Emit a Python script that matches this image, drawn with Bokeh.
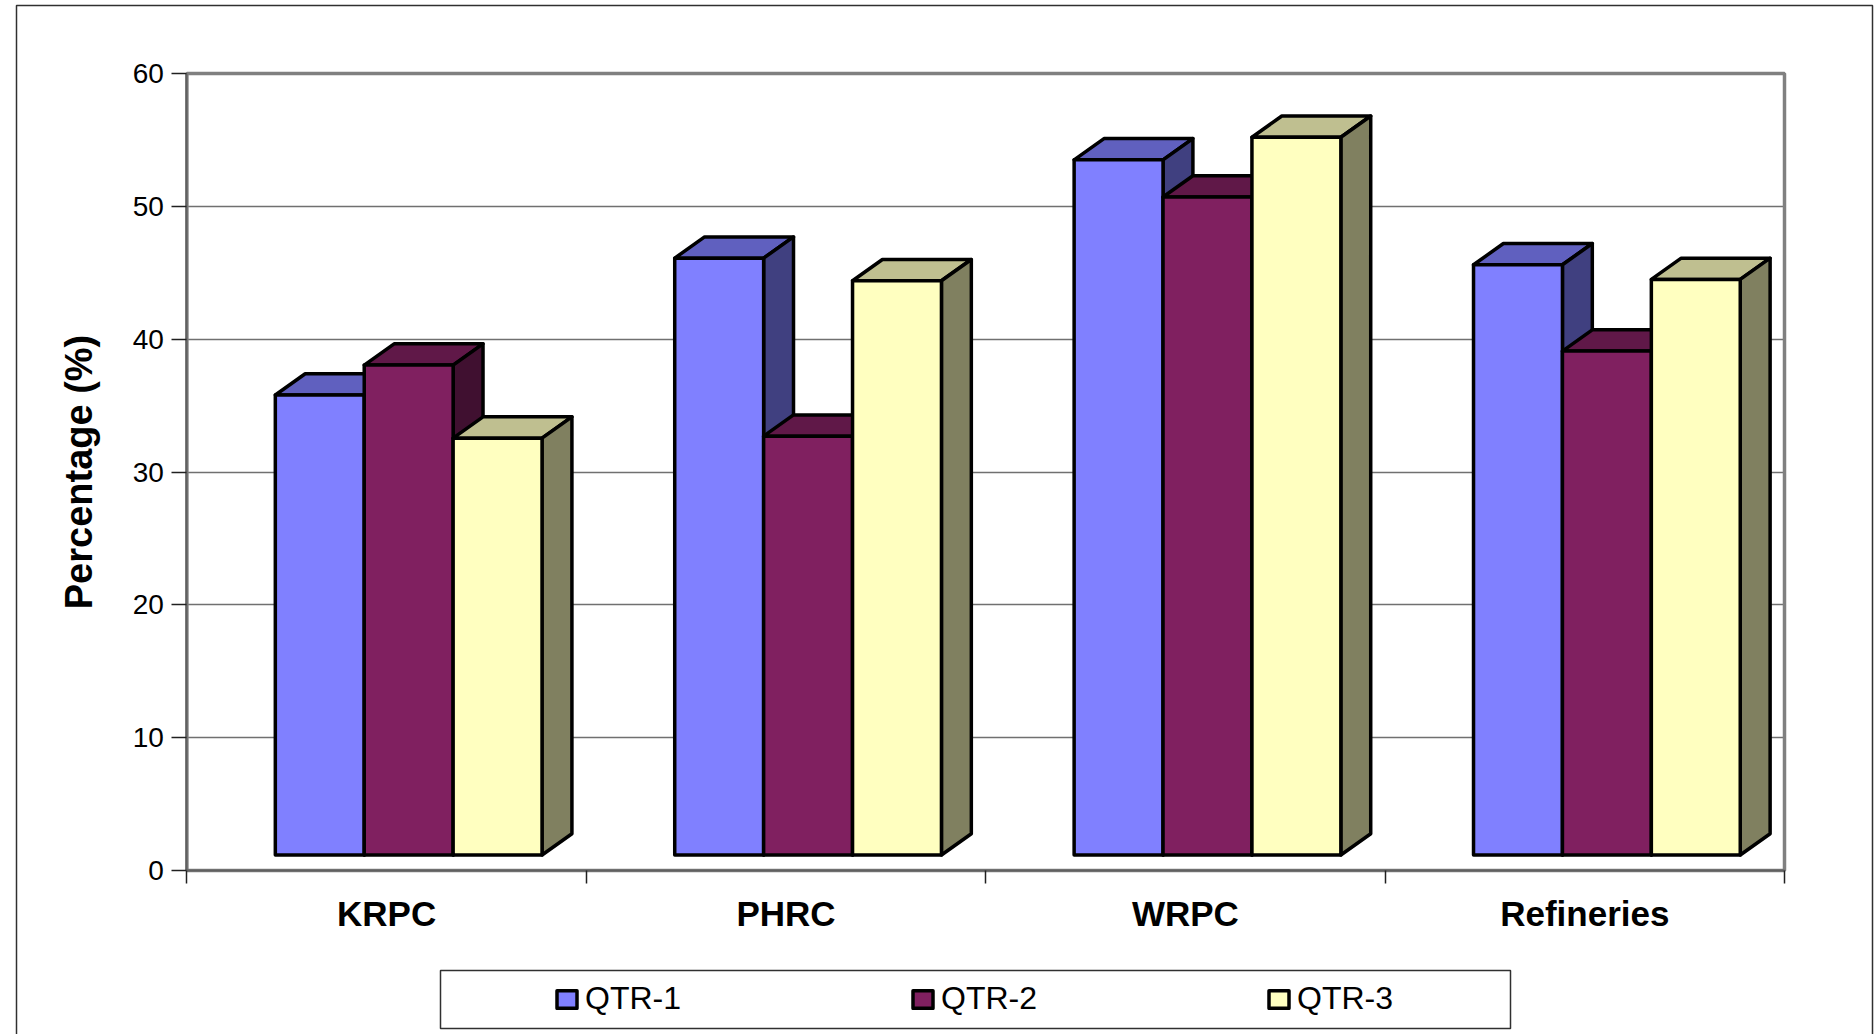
from bokeh.plotting import figure
from bokeh.models import Range1d, FixedTicker, BoxAnnotation, Legend, LegendItem
from bokeh.embed import file_html
from bokeh.resources import INLINE

categories = ["KRPC", "PHRC", "WRPC", "Refineries"]
series_names = ["QTR-1", "QTR-2", "QTR-3"]
qtr1 = [35.8, 46.1, 53.5, 45.6]
qtr2 = [38.05, 32.7, 50.7, 39.1]
qtr3 = [32.55, 44.4, 55.2, 44.5]
y_ticks = [0, 10, 20, 30, 40, 50, 60]

front = ["#8080FF", "#802060", "#FFFFC0"]
top_c = ["#6060BF", "#601848", "#BFBF90"]
side_c = ["#404080", "#401030", "#808060"]

FONT = "Liberation Sans"
BAR_W = 0.2226
GROUP_OFF = 0.2214
DX = 0.0748
DY = 1.6
FLOOR = 1.17

W, H = 1874, 1034
PL, PR, PT, PB = 186.4, 1784.0, 73.0, 870.0
ux = (PR - PL) / 4
uy = (PB - PT) / 60

p = figure(width=W, height=H, output_backend="svg", toolbar_location=None,
           x_range=Range1d(-PL / ux, (W - PL) / ux),
           y_range=Range1d(-(H - PB) / uy, PB / uy),
           min_border=0, background_fill_color="white", border_fill_color="white")

p.outline_line_color = None
p.xgrid.visible = False
p.ygrid.grid_line_color = "#707070"
p.ygrid.grid_line_width = 1.5
p.ygrid.ticker = FixedTicker(ticks=y_ticks)
p.ygrid.cross_bounds = (0, 4)

ya = p.yaxis[0]
ya.fixed_location = 0
ya.bounds = (0, 60)
ya.ticker = FixedTicker(ticks=y_ticks)
ya.axis_line_color = "#606060"
ya.axis_line_width = 2
ya.major_tick_line_color = "#202020"
ya.major_tick_line_width = 1.5
ya.major_tick_in = 0
ya.major_tick_out = 15
ya.minor_tick_line_color = None
ya.major_label_text_font = FONT
ya.major_label_text_font_size = "28px"
ya.major_label_text_color = "black"
ya.major_label_standoff = 8
ya.axis_label = "Percentage (%)"
ya.axis_label_text_font = FONT
ya.axis_label_text_font_size = "38px"
ya.axis_label_text_font_style = "bold"
ya.axis_label_text_color = "black"
ya.axis_label_standoff = 29

xa = p.xaxis[0]
xa.fixed_location = 0
xa.bounds = (0, 4)
centers = [i + 0.5 for i in range(len(categories))]
xa.ticker = FixedTicker(ticks=centers, minor_ticks=list(range(len(categories) + 1)))
xa.major_label_overrides = {c: n for c, n in zip(centers, categories)}
xa.axis_line_color = "#606060"
xa.axis_line_width = 2
xa.major_tick_line_color = None
xa.major_tick_in = 0
xa.major_tick_out = 0
xa.minor_tick_line_color = "#202020"
xa.minor_tick_line_width = 1.5
xa.minor_tick_in = 0
xa.minor_tick_out = 13
xa.major_label_text_font = FONT
xa.major_label_text_font_size = "35px"
xa.major_label_text_font_style = "bold"
xa.major_label_text_color = "black"
xa.major_label_standoff = 10

wall = BoxAnnotation(left=0, right=4, top=60, bottom=0, fill_color=None,
                     line_color="#808080", line_alpha=1, line_width=3.5, level="underlay")
p.add_layout(wall)

outer = BoxAnnotation(left=16, right=1872, top=5, bottom=1060,
                      left_units="canvas", right_units="canvas", top_units="canvas", bottom_units="canvas",
                      fill_color=None, line_color="#303030", line_alpha=1, line_width=1.5, level="underlay")
p.add_layout(outer)

legend_box = BoxAnnotation(left=440, right=1510, top=970, bottom=1028,
                           left_units="canvas", right_units="canvas", top_units="canvas", bottom_units="canvas",
                           fill_color="white", fill_alpha=1, line_color="#303030", line_alpha=1, line_width=1.5,
                           level="annotation")
p.add_layout(legend_box)

front_renderers = []
for s, vals in enumerate([qtr1, qtr2, qtr3]):
    x0 = [c + GROUP_OFF + s * BAR_W for c in range(len(vals))]
    x1 = [x + BAR_W for x in x0]
    p.patches([[a, b, b + DX, a + DX] for a, b in zip(x0, x1)],
              [[v, v, v + DY, v + DY] for v in vals],
              fill_color=top_c[s], line_color="black", line_width=3.5, line_join="round")
    p.patches([[b, b + DX, b + DX, b] for b in x1],
              [[FLOOR, FLOOR + DY, v + DY, v] for v in vals],
              fill_color=side_c[s], line_color="black", line_width=3.5, line_join="round")
    r = p.vbar(x=[(a + b) / 2 for a, b in zip(x0, x1)], width=BAR_W, bottom=FLOOR, top=vals,
               fill_color=front[s], line_color="black", line_width=3.5, line_join="round")
    front_renderers.append(r)

legend = Legend(items=[LegendItem(label=n, renderers=[r]) for n, r in zip(series_names, front_renderers)],
                orientation="horizontal", location=(554, 17),
                padding=0, margin=0, spacing=227, label_standoff=6,
                glyph_width=25, glyph_height=22, label_width=98, label_height=22,
                border_line_color=None, background_fill_alpha=0,
                label_text_font=FONT, label_text_font_size="32px", label_text_color="black")
p.add_layout(legend)

open("out.html", "w").write(file_html(p, INLINE))
